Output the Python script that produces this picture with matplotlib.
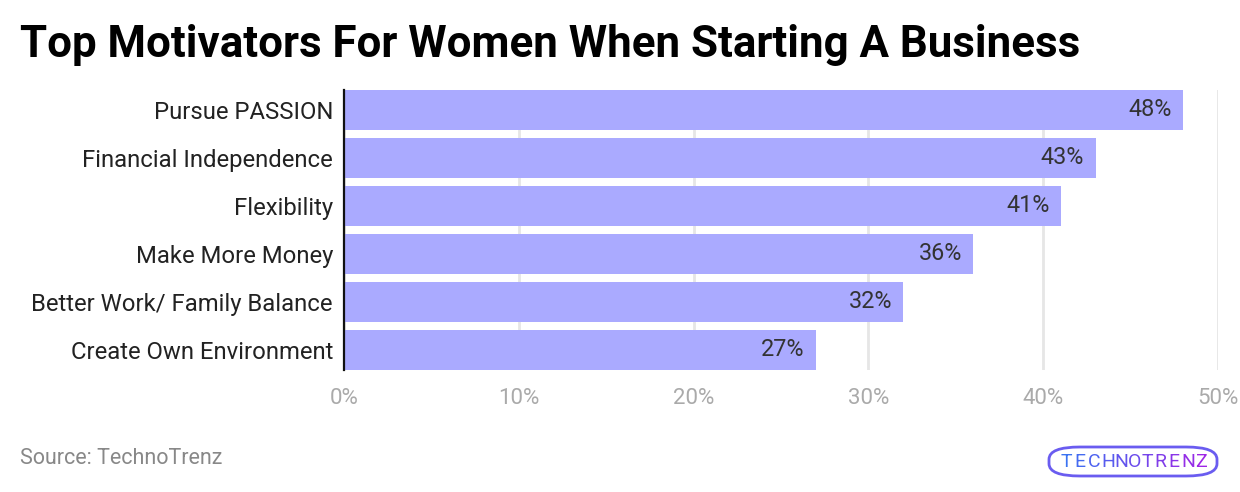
import matplotlib.pyplot as plt
from matplotlib.patches import FancyBboxPatch
import numpy as np

# Data
categories = ['Pursue PASSION', 'Financial Independence', 'Flexibility',
              'Make More Money', 'Better Work/ Family Balance', 'Create Own Environment']
values = [48, 43, 41, 36, 32, 27]
xticks = [0, 10, 20, 30, 40, 50]

plt.rcParams['font.family'] = ['Roboto', 'DejaVu Sans']

fig = plt.figure(figsize=(12.4, 4.92), dpi=100)
ax = fig.add_axes([344 / 1240, 1 - 370 / 492, 874 / 1240, 280 / 492])

y = np.arange(len(categories))
bars = ax.barh(y, values, height=40 / 48, color='#aaaaff', zorder=2)

# value labels inside the bars
for bar, v in zip(bars, values):
    ax.text(bar.get_width() - 0.65, bar.get_y() + bar.get_height() / 2, f'{v}%',
            ha='right', va='center', fontsize=16.8, color='#333333', zorder=3)

ax.set_ylim(len(categories) - 1 + 20 / 48, -20 / 48)
ax.set_xlim(0, 50)
ax.set_yticks(y)
ax.set_yticklabels(categories, fontsize=17.2, color='#222222')
ax.set_xticks(xticks)
ax.set_xticklabels([f'{t}%' for t in xticks], fontsize=16, color='#aaaaaa')
ax.tick_params(axis='both', length=0)
ax.tick_params(axis='y', pad=8)
ax.tick_params(axis='x', pad=13)

ax.grid(axis='x', color='#e6e6e6', linewidth=2, zorder=0)
for s in ['top', 'right', 'bottom']:
    ax.spines[s].set_visible(False)
ax.spines['left'].set_color('#111111')
ax.spines['left'].set_linewidth(1.6)
ax.spines['left'].set_zorder(4)

# title and source
fig.text(20 / 1240, 1 - 45 / 492, 'Top Motivators For Women When Starting A Business',
         fontsize=31.6, fontweight='bold', color='#000000', va='center', ha='left')
fig.text(20 / 1240, 1 - 459 / 492, 'Source: TechnoTrenz', fontsize=15.5,
         color='#888888', va='center', ha='left')

# logo
logo = FancyBboxPatch((1049 / 1240, 1 - 476 / 492), 168 / 1240, 29 / 492,
                      boxstyle='round,pad=0,rounding_size=0.025',
                      transform=fig.transFigure, facecolor='none',
                      edgecolor='#6a5cf0', linewidth=2)
fig.add_artist(logo)
word = 'TECHNOTRENZ'
c0 = np.array([0.23, 0.45, 0.95])
c1 = np.array([0.62, 0.15, 0.90])
for i, ch in enumerate(word):
    t = i / (len(word) - 1)
    fig.text((1061 + i * 13.4) / 1240, 1 - 462 / 492, ch, fontsize=14,
             color=tuple(c0 * (1 - t) + c1 * t), ha='left', va='center')

fig.savefig('out.png', dpi=100)
